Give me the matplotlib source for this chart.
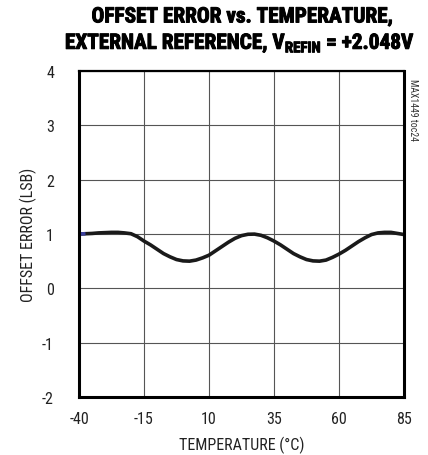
import matplotlib
matplotlib.use('Agg')
import matplotlib.pyplot as plt
import matplotlib.patheffects as pe

# offset error vs temperature
temp_c = [-40, -37.5, -35, -32.5, -30, -27.5, -25, -22.5, -20, -17.5, -15, -12.5,
          -10, -7.5, -5, -2.5, 0, 2.5, 5, 7.5, 10, 12.5, 15, 17.5, 20, 22.5,
          25, 27.5, 30, 32.5, 35, 37.5, 40, 42.5, 45, 47.5, 50, 52.5, 55, 57.5,
          60, 62.5, 65, 67.5, 70, 72.5, 75, 77.5, 80, 82.5, 85]
offset_lsb = [1.00, 1.005, 1.01, 1.02, 1.025, 1.03, 1.03, 1.02, 1.005, 0.95, 0.87, 0.80,
              0.72, 0.64, 0.58, 0.53, 0.505, 0.50, 0.52, 0.56, 0.61, 0.69, 0.77, 0.85, 0.92, 0.97,
              0.995, 0.998, 0.976, 0.93, 0.87, 0.80, 0.72, 0.64, 0.58, 0.53, 0.505, 0.50, 0.52, 0.57,
              0.63, 0.70, 0.78, 0.86, 0.93, 0.99, 1.02, 1.03, 1.03, 1.01, 0.99]

x_ticks = [-40, -15, 10, 35, 60, 85]
y_ticks = [-2, -1, 0, 1, 2, 3, 4]

plt.rcParams['font.family'] = ['Roboto Condensed', 'DejaVu Sans']
plt.rcParams['mathtext.fontset'] = 'custom'
plt.rcParams['mathtext.bf'] = 'Roboto Condensed:bold'
plt.rcParams['mathtext.rm'] = 'Roboto Condensed'

fig = plt.figure(figsize=(4.28, 4.56), dpi=100)
ax = fig.add_axes([79 / 428, 1 - 398 / 456, 325 / 428, 326 / 456])

ax.plot(temp_c, offset_lsb, color='#1a1a1a', lw=2.6, solid_capstyle='round')
ax.plot(temp_c[:2], offset_lsb[:2], color='#3a3f9a', lw=2.6, solid_capstyle='butt')

ax.set_xlim(-40, 85)
ax.set_ylim(-2, 4)
ax.set_xticks(x_ticks)
ax.set_yticks(y_ticks)
ax.set_xticklabels([str(t) for t in x_ticks])
ax.set_yticklabels([str(t) for t in y_ticks])
ax.tick_params(length=0, labelsize=11.5, colors='#222222')
ax.tick_params(axis='y', pad=18)
ax.tick_params(axis='x', pad=10)
ax.grid(True, color='#555555', lw=0.8)
for side, sp in ax.spines.items():
    sp.set_linewidth(2.2)
    sp.set_color('black')
ax.spines['top'].set_linewidth(1.6)

ax.set_xlabel('TEMPERATURE (°C)', fontsize=11.5, color='#222222', labelpad=7)
ax.set_ylabel('OFFSET ERROR (LSB)', fontsize=11.5, color='#222222', labelpad=4)

fat = [pe.withStroke(linewidth=0.7, foreground='black')]
fig.text(242 / 428, 1 - 18 / 456, 'OFFSET ERROR vs. TEMPERATURE,',
         ha='center', va='center', fontsize=15.3, fontweight='bold', path_effects=fat)
fig.text(240 / 428, 1 - 45 / 456,
         r'EXTERNAL REFERENCE, V$_{\mathbf{REFIN}}$ = +2.048V',
         ha='center', va='center', fontsize=15.3, fontweight='bold', path_effects=fat)
fig.text(413 / 428, 1 - 110 / 456, 'MAX1449 toc24', rotation=270,
         ha='center', va='center', fontsize=7, color='#333333')

fig.savefig('out.png', dpi=100)
